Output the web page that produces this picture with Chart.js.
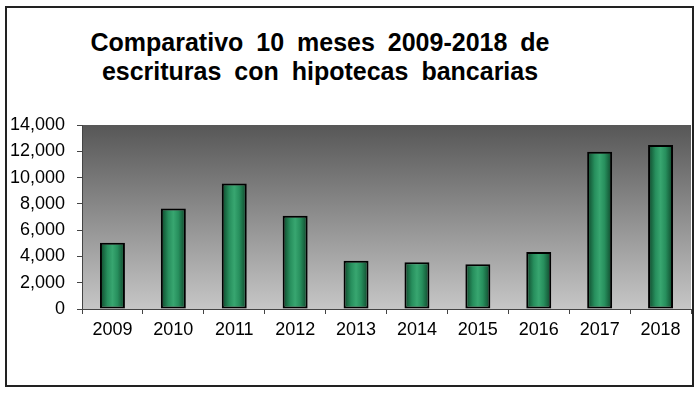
<!DOCTYPE html>
<html>
<head>
<meta charset="utf-8">
<script src="https://cdn.jsdelivr.net/npm/chart.js@4"></script>
<style>
  html, body { margin: 0; padding: 0; background: #fff; }
  #wrap { position: relative; width: 700px; height: 395px; }
  #frame { position: absolute; left: 5px; top: 6px; width: 685px; height: 377px; border: 2px solid #222; }
  #title {
    position: absolute; left: 0; top: 28px; width: 640px; text-align: center;
    font: bold 25px "Liberation Sans", Arial, sans-serif; line-height: 29px;
    word-spacing: 6px; color: #000;
  }
  canvas { position: absolute; left: 0; top: 0; }
</style>
</head>
<body>
<div id="wrap">
  <div id="frame"></div>
  <div id="title">Comparativo 10 meses 2009-2018 de<br>escrituras con hipotecas bancarias</div>
  <canvas id="c" width="700" height="395"></canvas>
</div>
<script>
// datos
const years  = ['2009','2010','2011','2012','2013','2014','2015','2016','2017','2018'];
const values = [5050, 7650, 9550, 7100, 3680, 3550, 3400, 4340, 11970, 12480];
const yMax = 14000;
const yStep = 2000;

// ── fondo degradado del área de trazado
const plotBg = {
  id: 'plotBg',
  beforeDraw(chart) {
    const { ctx, chartArea: a } = chart;
    const g = ctx.createLinearGradient(0, a.top, 0, a.bottom);
    g.addColorStop(0, '#575757');
    g.addColorStop(1, '#c6c6c6');
    ctx.save();
    ctx.fillStyle = g;
    ctx.fillRect(a.left, a.top, a.right - a.left, a.bottom - a.top);
    ctx.restore();
  }
};

// ── relleno tipo cilindro para cada barra
function barFill(c) {
  const chart = c.chart;
  const a = chart.chartArea;
  if (!a) return '#2a8f5f';
  const x = chart.scales.x.getPixelForValue(c.dataIndex);
  const half = (a.right - a.left) / years.length * 0.41 / 2;
  const g = chart.ctx.createLinearGradient(x - half, 0, x + half, 0);
  g.addColorStop(0, '#0e4429');
  g.addColorStop(0.3, '#278f5d');
  g.addColorStop(0.5, '#38a670');
  g.addColorStop(0.7, '#278f5d');
  g.addColorStop(1, '#0e4429');
  return g;
}

const font = { family: '"Liberation Sans", Arial, sans-serif', size: 18 };

new Chart(document.getElementById('c'), {
  type: 'bar',
  data: {
    labels: years,
    datasets: [{
      data: values,
      backgroundColor: barFill,
      borderColor: '#000',
      borderWidth: 2,
      borderSkipped: false,
      categoryPercentage: 1,
      barPercentage: 0.41,
    }]
  },
  options: {
    responsive: false,
    animation: false,
    layout: { padding: { left: 0, top: 125, right: 9, bottom: 0 } },
    plugins: { legend: { display: false }, tooltip: { enabled: false }, title: { display: false } },
    scales: {
      x: {
        afterFit: s => { s.height = 86; },
        grid: { drawOnChartArea: false, tickLength: 5, color: '#444', offset: true },
        border: { color: '#444', width: 1 },
        ticks: { color: '#000', font, padding: 5 },
      },
      y: {
        min: 0, max: yMax,
        afterFit: s => { s.width = 82; },
        grid: { drawOnChartArea: false, tickLength: 5, color: '#444' },
        border: { color: '#444', width: 1 },
        ticks: { color: '#000', font, padding: 12, stepSize: yStep,
                 callback: v => v.toLocaleString('en-US') },
      }
    }
  },
  plugins: [plotBg]
});
</script>
</body>
</html>
